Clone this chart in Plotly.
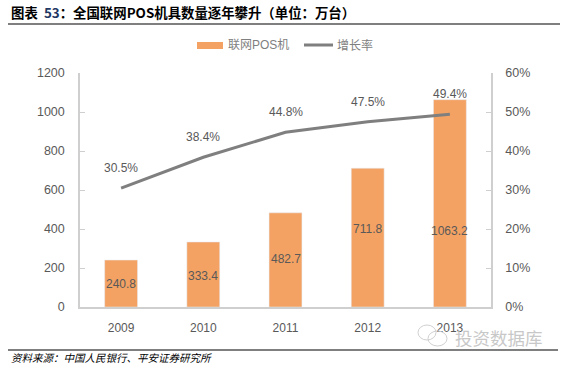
import plotly.graph_objects as go

years = ["2009", "2010", "2011", "2012", "2013"]
pos_units = [240.8, 333.4, 482.7, 711.8, 1063.2]
growth = [30.5, 38.4, 44.8, 47.5, 49.4]
left_ticks = [0, 200, 400, 600, 800, 1000, 1200]
right_ticks = [0, 10, 20, 30, 40, 50, 60]
right_labels = ["0%", "10%", "20%", "30%", "40%", "50%", "60%"]
bar_label_shift = [0, -2, 1, 9, -28]

GREY = "#595959"
AX = "#CFCFCF"
F = "Liberation Sans, Noto Sans CJK SC"
CJK = "Noto Sans CJK SC"
L, R, T, B = 80, 491, 73, 307
W, H = R - L, B - T
px = lambda x: (x - L) / W
py = lambda y: (B - y) / H

fig = go.Figure()
fig.add_trace(go.Bar(x=years, y=pos_units, name="联网POS机", marker_color="#F4A263", width=0.4))
fig.add_trace(go.Scatter(x=years, y=growth, name="增长率", yaxis="y2", mode="lines",
                         line=dict(color="#7F7F7F", width=3), cliponaxis=False))

ann = []
for i, (v, s) in enumerate(zip(pos_units, bar_label_shift)):
    ann.append(dict(text=f"{v}", x=i, y=v / 2, xref="x", yref="y", yshift=s, showarrow=False,
                    font=dict(size=12, color=GREY, family=F)))
for i, v in enumerate(growth):
    ann.append(dict(text=f"{v}%", x=i, y=v, xref="x", yref="y2", yshift=20, showarrow=False,
                    font=dict(size=12, color=GREY, family=F)))
def paper_text(t, x, y, size, color, fam=CJK):
    ann.append(dict(text=t, xref="paper", yref="paper", x=px(x), y=py(y), xanchor="left", yanchor="middle",
                    showarrow=False, font=dict(size=size, color=color, family=fam)))
paper_text("<b>图表  <span style='color:#1F3864'>53</span>：全国联网POS机具数量逐年攀升（单位：万台）</b>", 9, 12, 13.4, "black")
paper_text("<i>资料来源：中国人民银行、平安证券研究所</i>", 9, 357, 10.5, "black")
paper_text("投资数据库", 453, 337, 17.5, "#C8C8C8")
paper_text("联网POS机", 226, 45, 12, "#7F7F7F", F)
paper_text("增长率", 335, 45, 12, "#7F7F7F", F)

def pline(x0, y0, x1, y1, color, w):
    return dict(type="line", xref="paper", yref="paper", x0=px(x0), x1=px(x1), y0=py(y0), y1=py(y1),
                line=dict(color=color, width=w))
def pcirc(x0, y0, x1, y1):
    return dict(type="circle", xref="paper", yref="paper", x0=px(x0), x1=px(x1), y0=py(y0), y1=py(y1),
                line=dict(color="#D0D0D0", width=1))
shapes = [
    pline(8, 24, 560, 24, "black", 1.2),
    pline(8, 350, 558, 350, "black", 1.2),
    dict(type="rect", xref="paper", yref="paper", x0=px(197), x1=px(223), y0=py(42), y1=py(49),
         fillcolor="#F4A263", line=dict(width=0)),
    pline(304, 45, 333, 45, "#7F7F7F", 3),
    pcirc(418, 325, 436, 340),
    pcirc(428, 331, 447, 346),
]

fig.update_layout(
    width=568, height=367, autosize=False, paper_bgcolor="white", plot_bgcolor="white",
    margin=dict(l=L, r=568 - R, t=T, b=367 - B, autoexpand=False), bargap=0.6,
    font=dict(family=F, color=GREY, size=12),
    showlegend=False,
    xaxis=dict(type="category", range=[-0.5, 4.5], showline=True, linecolor=AX, linewidth=1.5, ticks="",
               tickfont=dict(size=12, color=GREY), showgrid=False, ticklabelstandoff=9),
    yaxis=dict(range=[0, 1200], tickmode="array", tickvals=left_ticks, showline=True, linecolor=AX, linewidth=1.5,
               ticks="inside", ticklen=5, tickcolor=AX, showgrid=False,
               tickfont=dict(size=12.5, color=GREY), zeroline=False, ticklabelstandoff=11),
    yaxis2=dict(range=[0, 60], overlaying="y", side="right", tickmode="array", tickvals=right_ticks, ticktext=right_labels,
                showline=True, linecolor=AX, linewidth=1.5, ticks="inside", ticklen=5, tickcolor=AX, showgrid=False,
                tickfont=dict(size=12.5, color=GREY), zeroline=False, ticklabelstandoff=10),
    shapes=shapes,
    annotations=ann,
)
fig.write_html("out.html", config=dict(displayModeBar=False),
               post_script="document.body.style.margin='0';document.documentElement.style.overflow='hidden';")
